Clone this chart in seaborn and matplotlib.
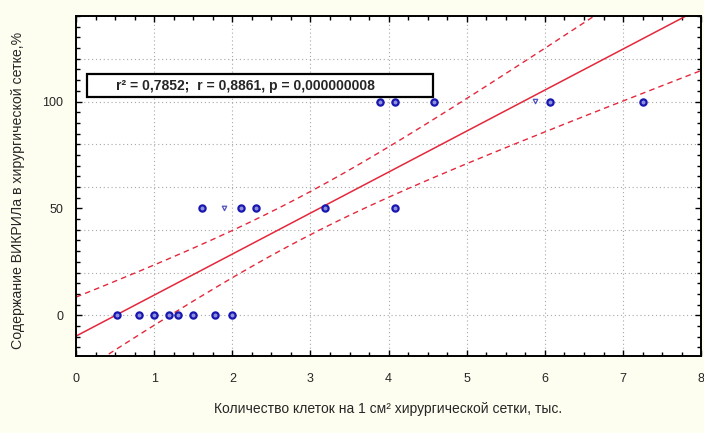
import numpy as np
import pandas as pd
import matplotlib
matplotlib.use("Agg")
import matplotlib.pyplot as plt
from matplotlib.patches import Rectangle
from matplotlib.ticker import MultipleLocator, FixedLocator
import seaborn as sns

sns.set_theme(style="white")
plt.rcParams['font.family'] = ['Liberation Sans', 'DejaVu Sans']

# cell count (thousand per 1 cm2) vs VICRYL content (%)
cells = [0.53, 0.81, 1.00, 1.19, 1.31, 1.50, 1.78, 1.99,
         1.61, 1.90, 2.11, 2.30, 3.19, 4.08,
         3.89, 4.08, 4.58, 5.88, 6.07, 7.26]
vicryl = [0, 0, 0, 0, 0, 0, 0, 0,
          50, 50, 50, 50, 50, 50,
          100, 100, 100, 100, 100, 100]
faint = [False] * 9 + [True] + [False] * 7 + [True] + [False] * 2

x_ticks = [0, 1, 2, 3, 4, 5, 6, 7, 8]
y_ticks = [0, 50, 100]
y_grid = [-20, 0, 20, 40, 60, 80, 100, 120, 140]
stats_text = "r² = 0,7852;  r = 0,8861, p = 0,000000008"

df = pd.DataFrame({"x": cells, "y": vicryl, "faint": faint})

fig = plt.figure(figsize=(7.04, 4.33), dpi=100, facecolor="#fdfdf0")
ax = fig.add_axes([0.108, 0.178, 0.888, 0.785])
ax.set_facecolor("white")
ax.set_xlim(0, 8)
ax.set_ylim(-19, 140)

# grid: vertical at integers, horizontal every 20
for gx in x_ticks[1:-1]:
    ax.axvline(gx, color="#a8a8a8", lw=0.8, ls=(0, (1, 2.5)), zorder=0)
for gy in y_grid:
    ax.axhline(gy, color="#a8a8a8", lw=0.8, ls=(0, (1, 2.5)), zorder=0)

# regression line and 95% confidence band for the mean
x = df["x"].to_numpy()
y = df["y"].to_numpy()
n = len(x)
slope, intercept = np.polyfit(x, y, 1)
xs = np.linspace(0, 8, 200)
fit = intercept + slope * xs
resid = y - (intercept + slope * x)
s = np.sqrt(np.sum(resid ** 2) / (n - 2))
sxx = np.sum((x - x.mean()) ** 2)
se = s * np.sqrt(1 / n + (xs - x.mean()) ** 2 / sxx)
tval = 2.101
red = "#e4283c"
sns.regplot(data=df, x="x", y="y", scatter=False, ci=None, truncate=False,
            line_kws=dict(color=red, lw=1.1), ax=ax)
ax.plot(xs, fit + tval * se, color=red, lw=1.0, ls=(0, (4, 3)))
ax.plot(xs, fit - tval * se, color=red, lw=1.0, ls=(0, (4, 3)))

sns.scatterplot(data=df[~df["faint"]], x="x", y="y", marker="o", s=20,
                facecolor="#9090dc", edgecolor="#1818b0", linewidth=1.6,
                ax=ax, zorder=5)
sns.scatterplot(data=df[df["faint"]], x="x", y="y", marker="v", s=10,
                facecolor="none", edgecolor="#5050c0", linewidth=0.9,
                ax=ax, zorder=5)

ax.set_xlim(0, 8)
ax.set_ylim(-19, 140)
ax.xaxis.set_major_locator(FixedLocator(x_ticks))
ax.xaxis.set_minor_locator(MultipleLocator(0.25))
ax.yaxis.set_major_locator(FixedLocator(y_ticks))
ax.yaxis.set_minor_locator(MultipleLocator(5))
ax.tick_params(which="both", direction="in", top=True, right=True,
               bottom=True, left=True, color="black", width=1.0)
ax.tick_params(which="major", length=4, labelsize=9)
ax.tick_params(axis="x", which="major", pad=12)
ax.tick_params(axis="y", which="major", pad=9)
ax.tick_params(which="minor", length=3)
ax.set_xticklabels([str(t) for t in x_ticks])
ax.set_yticklabels([str(t) for t in y_ticks])
for sp in ax.spines.values():
    sp.set_color("black")
    sp.set_linewidth(1.4)

ax.set_xlabel("")
ax.set_ylabel("")
fig.text(0.551, 0.055, "Количество клеток на 1 см² хирургической сетки, тыс.",
         ha="center", va="center", fontsize=10)
fig.text(0.026, 0.56, "Содержание ВИКРИЛа в хирургической сетке,%",
         ha="center", va="center", rotation=90, fontsize=10.2)

ax.add_patch(Rectangle((0.0176, 0.762), 0.553, 0.067, transform=ax.transAxes,
                       fc="white", ec="black", lw=1.6, zorder=6))
ax.text(0.064, 0.7955, stats_text, transform=ax.transAxes, ha="left",
        va="center", fontsize=10, fontweight="bold", zorder=7)

fig.savefig("out.png", dpi=100, facecolor=fig.get_facecolor())
